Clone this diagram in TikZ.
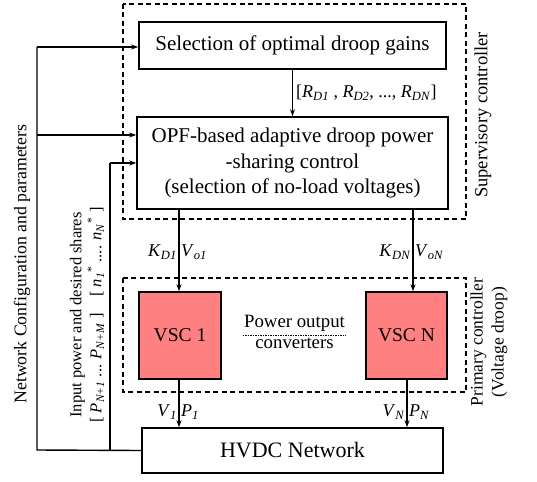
\documentclass[tikz,border=0pt]{standalone}
\usepackage{fontspec}
\setmainfont{Liberation Serif}
\usetikzlibrary{arrows.meta}
\definecolor{vscred}{RGB}{255,128,128}
\newcommand\isub[2]{\textit{#1}\textsubscript{\textit{#2}}}
\begin{document}
\begin{tikzpicture}[x=1pt,y=-1pt,
  blk/.style={draw,line width=1.6pt,rectangle,inner sep=0pt,align=center,font=\fontsize{21}{25.5}\selectfont},
  vscbox/.style={blk,fill=vscred,minimum width=82,minimum height=87,font=\fontsize{19.5}{23}\selectfont},
  dbox/.style={draw,dashed,line width=1.3pt,dash pattern=on 5pt off 3.5pt},
  arr/.style={line width=1.4pt,-{Stealth[length=7pt,width=5pt]}},
  conn/.style={line width=1.4pt},
  lbl/.style={font=\fontsize{18}{20}\selectfont,inner sep=2pt},
  side/.style={rotate=90,align=center,inner sep=0pt}]
\useasboundingbox (0,0) rectangle (537,481);
% dashed groups
\draw[dbox] (123,4) rectangle (466,219);
\draw[dbox] (123,278) rectangle (466,392);
% blocks
\node[blk,minimum width=307,minimum height=47] (sel) at (292.5,45.5) {Selection of optimal droop gains};
\node[blk,minimum width=311,minimum height=92] (opf) at (292.5,163) {OPF-based adaptive droop power\\-sharing control\\(selection of no-load voltages)};
\node[vscbox] (vsc1) at (180,335.5) {VSC 1};
\node[vscbox,minimum width=81] (vscN) at (406.5,335.5) {VSC N};
\node[blk,minimum width=301,minimum height=45,font=\fontsize{22}{25}\selectfont] (hvdc) at (292.5,450.5) {HVDC Network};
% supervisory arrows
\draw[arr] (sel.south) -- (opf.north) node[lbl,midway,right,xshift=1pt] {[\textit{R}\textsubscript{\textit{D1}} , \textit{R}\textsubscript{\textit{D2}}, ..., \textit{R}\textsubscript{\textit{DN}}]};
\coordinate (k1top) at (vsc1.north |- opf.south);
\coordinate (k1bot) at ([xshift=-1pt]vsc1.north);
\draw[arr] (k1top -| k1bot) -- (k1bot);
\coordinate (kNbot) at ([xshift=6.5pt]vscN.north);
\draw[arr] (kNbot |- opf.south) -- (kNbot);
\node[lbl,anchor=east] (kd1) at (179,252) {\isub{K}{D1}};
\node[lbl,anchor=west] (vo1) at (179,252) {\isub{V}{o1}};
\node[lbl,anchor=east] (kdn) at (413,252) {\isub{K}{DN}};
\node[lbl,anchor=west] (von) at (413,252) {\isub{V}{oN}};
% outputs
\coordinate (o1) at ([xshift=-1pt]vsc1.south);
\draw[arr] (o1) -- (o1 |- hvdc.north);
\coordinate (oN) at ([xshift=0.5pt]vscN.south);
\draw[arr] (oN) -- (oN |- hvdc.north);
\node[lbl,anchor=east] (v1) at (179,412) {\isub{V}{1}};
\node[lbl,anchor=west] (p1) at (179,412) {\isub{P}{1}};
\node[lbl,anchor=east] (vn) at (407,412) {\isub{V}{N}};
\node[lbl,anchor=west] (pn) at (407,412) {\isub{P}{N}};
% power output converters
\draw[line width=1.2pt,dash pattern=on 1.2pt off 1.3pt] ([xshift=21pt]vsc1.east) -- ([xshift=-19pt]vscN.west);
\node[font=\fontsize{18.8}{22}\selectfont,anchor=south,inner sep=1pt] (po) at (294.5,333) {Power output};
\node[font=\fontsize{18.8}{22}\selectfont,anchor=north,inner sep=1pt] (cv) at (294.5,337) {converters};
% feedback lines
\coordinate (la) at (37,47);
\coordinate (lb) at (37,450);
\coordinate (ma) at (110,163);
\coordinate (mb) at (110,450);
\draw[conn] (hvdc.west) -- (lb) -- (la);
\draw[arr] (la) -- (la -| sel.west);
\draw[arr] (37,135) -- (37,135 -| opf.west);
\draw[conn] (mb) -- (ma);
\draw[arr] (ma) -- (ma -| opf.west);
% side texts
\node[side,font=\fontsize{17.8}{20}\selectfont] (netcfg) at (22,264) {Network Configuration and parameters};
\node[side,font=\fontsize{16.5}{20}\selectfont] (inp) at (87,315) {Input power and desired shares\\{}[ \isub{P}{N+1} ... \isub{P}{N+M} ]\quad[ \textit{n}\textsubscript{\textit{1}}\textsuperscript{*} .... \textit{n}\textsubscript{\textit{N}}\textsuperscript{*} ]};
\node[side,font=\fontsize{18.5}{21}\selectfont] (supc) at (483,115) {Supervisory controller};
\node[side,font=\fontsize{17.5}{21}\selectfont] (primc) at (489,342) {Primary controller\\(Voltage droop)};
\end{tikzpicture}
\end{document}
